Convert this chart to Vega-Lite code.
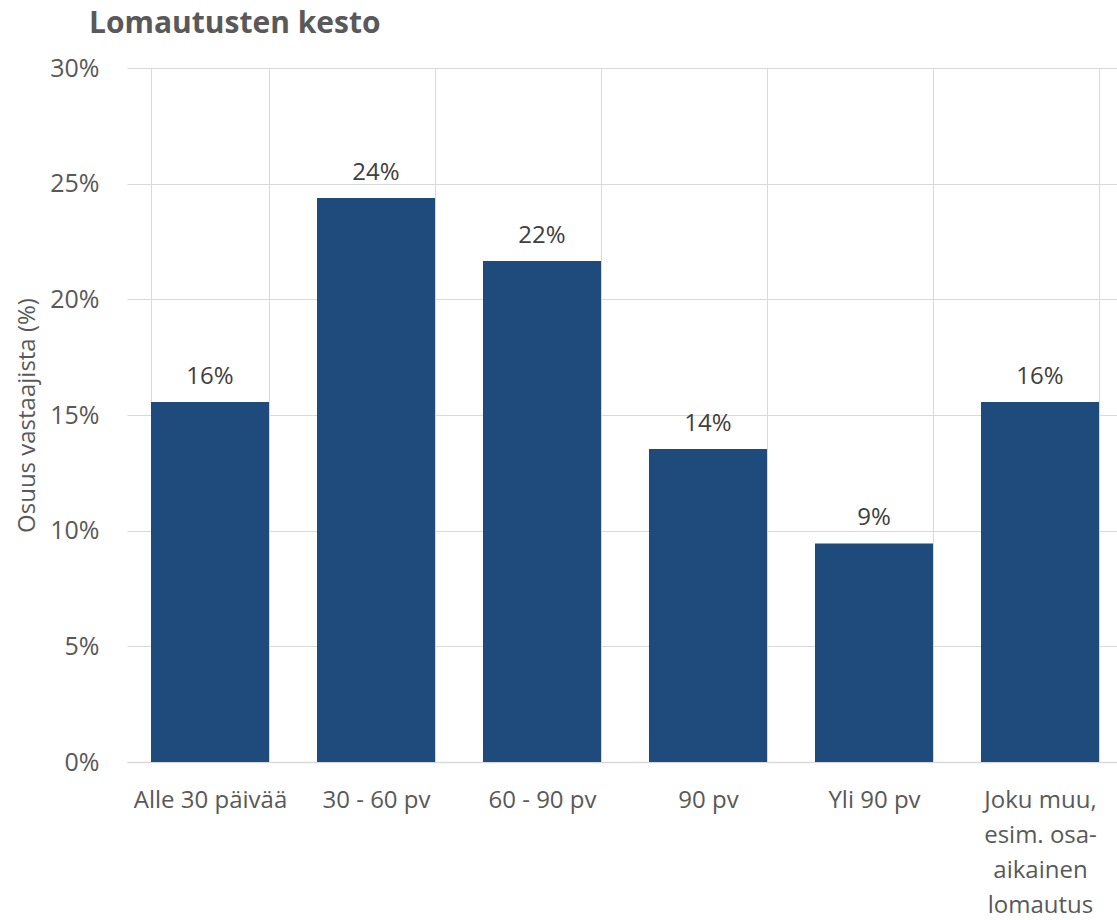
{
  "$schema": "https://vega.github.io/schema/vega-lite/v6.json",
  "autosize": {"type": "none"},
  "padding": {"left": 127, "top": 68, "right": 0, "bottom": 158},
  "width": 996,
  "height": 694,
  "background": "white",
  "title": {
    "text": "Lomautusten kesto",
    "anchor": "start",
    "frame": "group",
    "dx": -38,
    "dy": 7,
    "offset": 0,
    "baseline": "alphabetic",
    "font": "Open Sans",
    "fontSize": 30,
    "fontWeight": "bold",
    "color": "#595959"
  },
  "config": {
    "view": {"stroke": null},
    "font": "Open Sans",
    "axis": {"labelFont": "Open Sans", "titleFont": "Open Sans", "labelColor": "#595959", "titleColor": "#595959"}
  },
  "data": {
    "values": [
      {"kesto": "Alle 30 päivää", "osuus": 0.1556},
      {"kesto": "30 - 60 pv", "osuus": 0.2438},
      {"kesto": "60 - 90 pv", "osuus": 0.2166},
      {"kesto": "90 pv", "osuus": 0.1353},
      {"kesto": "Yli 90 pv", "osuus": 0.0945},
      {"kesto": "Joku muu, esim. osa-aikainen lomautus", "osuus": 0.1556}
    ]
  },
  "encoding": {
    "x": {
      "field": "kesto",
      "type": "nominal",
      "sort": null,
      "scale": {"paddingInner": 0.289, "paddingOuter": 0.1445},
      "axis": {
        "title": null,
        "labelAngle": 0,
        "labelFontSize": 24,
        "labelPadding": 26,
        "labelLineHeight": 35,
        "labelBaseline": "top",
        "labelExpr": "datum.label == 'Joku muu, esim. osa-aikainen lomautus' ? ['Joku muu,', 'esim. osa-', 'aikainen', 'lomautus'] : datum.label",
        "ticks": false,
        "tickBand": "extent",
        "grid": true,
        "gridColor": "#d9d9d9",
        "gridWidth": 1,
        "domain": true,
        "domainColor": "#d9d9d9",
        "domainWidth": 1.5
      }
    },
    "y": {
      "field": "osuus",
      "type": "quantitative",
      "scale": {"domain": [0, 0.3], "nice": false},
      "axis": {
        "title": "Osuus vastaajista (%)",
        "titleFontSize": 24,
        "titleFontWeight": "normal",
        "titlePadding": 10,
        "format": ".0%",
        "values": [0, 0.05, 0.1, 0.15, 0.2, 0.25, 0.3],
        "labelFontSize": 25,
        "labelPadding": 28,
        "ticks": false,
        "domain": false,
        "grid": true,
        "gridColor": "#d9d9d9",
        "gridWidth": 1
      }
    }
  },
  "layer": [
    {"mark": {"type": "bar", "color": "#1f4a7c"}},
    {
      "mark": {"type": "text", "baseline": "bottom", "dy": -13, "fontSize": 24, "color": "#404040", "font": "Open Sans"},
      "encoding": {"text": {"field": "osuus", "type": "quantitative", "format": ".0%"}}
    }
  ]
}
